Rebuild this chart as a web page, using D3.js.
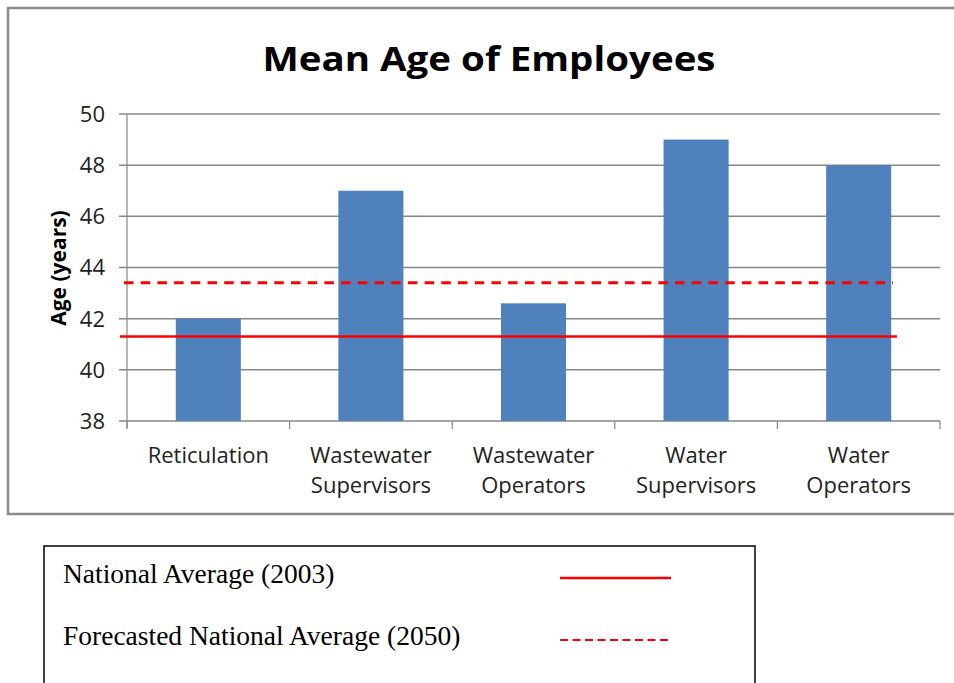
<!DOCTYPE html>
<html>
<head>
<meta charset="utf-8">
<script src="https://cdn.jsdelivr.net/npm/d3@7"></script>
<style>
  body { margin: 0; background: #ffffff; }
  svg { display: block; }
</style>
</head>
<body>
<svg id="vis"></svg>
<script>
// chart data
const categories = [["Reticulation"], ["Wastewater", "Supervisors"], ["Wastewater", "Operators"], ["Water", "Supervisors"], ["Water", "Operators"]];
const meanAges = [42, 47, 42.6, 49, 48];
const yTicks = [38, 40, 42, 44, 46, 48, 50];
const nationalAvg2003 = 41.3;
const forecastAvg2050 = 43.4;
const legendLabels = ["National Average (2003)", "Forecasted National Average (2050)"];

const W = 954, H = 683;
const uiFont = "'Open Sans', 'DejaVu Sans', sans-serif";

let svg = d3.select("#vis").attr("width", W).attr("height", H);

// outer chart frame
svg.append("rect")
    .attr("x", 8).attr("y", 8)
    .attr("width", 960).attr("height", 506)
    .attr("fill", "none")
    .attr("stroke", "#8a8a8a")
    .attr("stroke-width", 2.5);

svg.append("text")
    .attr("x", 489).attr("y", 71)
    .attr("text-anchor", "middle")
    .attr("font-family", uiFont)
    .attr("font-weight", "bold")
    .attr("font-size", 34)
    .attr("textLength", 453)
    .attr("lengthAdjust", "spacingAndGlyphs")
    .text("Mean Age of Employees");

// scales
let x = d3.scaleBand()
    .domain(d3.range(categories.length))
    .range([127, 940])
    .paddingInner(0.6)
    .paddingOuter(0.3);

let xEdge = d3.scaleLinear().domain([0, categories.length]).range([127, 940]);

let y = d3.scaleLinear().domain([38, 50]).range([421, 114]);

// gridlines
svg.append("g").selectAll("line")
    .data(yTicks)
    .enter()
    .append("line")
    .attr("x1", 119).attr("x2", 940)
    .attr("y1", function(d) { return y(d); })
    .attr("y2", function(d) { return y(d); })
    .attr("stroke", "#878787")
    .attr("stroke-width", 1.5);

// y axis line
svg.append("line")
    .attr("x1", 127).attr("x2", 127)
    .attr("y1", 114).attr("y2", 428)
    .attr("stroke", "#878787")
    .attr("stroke-width", 1.2);

// category tick marks
svg.append("g").selectAll("line")
    .data(d3.range(categories.length + 1))
    .enter()
    .append("line")
    .attr("x1", function(i) { return xEdge(i); })
    .attr("x2", function(i) { return xEdge(i); })
    .attr("y1", 421).attr("y2", 429)
    .attr("stroke", "#878787")
    .attr("stroke-width", 1.2);

// y tick labels
svg.append("g").selectAll("text")
    .data(yTicks)
    .enter()
    .append("text")
    .attr("x", 105)
    .attr("y", function(d) { return y(d); })
    .attr("dy", "0.36em")
    .attr("text-anchor", "end")
    .attr("font-family", uiFont)
    .attr("font-size", 22)
    .attr("fill", "#222")
    .text(function(d) { return d; });

svg.append("text")
    .attr("transform", "translate(66,268) rotate(-90)")
    .attr("text-anchor", "middle")
    .attr("font-family", uiFont)
    .attr("font-weight", "bold")
    .attr("font-size", 21)
    .text("Age (years)");

// bars
svg.append("g").selectAll("rect")
    .data(meanAges)
    .enter()
    .append("rect")
    .attr("x", function(d, i) { return x(i); })
    .attr("y", function(d) { return y(d); })
    .attr("width", x.bandwidth())
    .attr("height", function(d) { return y(38) - y(d); })
    .attr("fill", "#4f81bd");

// category labels
let catLabels = svg.append("g").selectAll("text")
    .data(categories)
    .enter()
    .append("text")
    .attr("x", function(d, i) { return x(i) + x.bandwidth() / 2; })
    .attr("y", 463)
    .attr("text-anchor", "middle")
    .attr("font-family", uiFont)
    .attr("font-size", 22)
    .attr("fill", "#222");

catLabels.selectAll("tspan")
    .data(function(d) { return d; })
    .enter()
    .append("tspan")
    .attr("x", function() { return d3.select(this.parentNode).attr("x"); })
    .attr("dy", function(d, j) { return j === 0 ? 0 : 30; })
    .text(function(d) { return d; });

// national average reference lines
svg.append("line")
    .attr("x1", 120).attr("x2", 897)
    .attr("y1", y(nationalAvg2003)).attr("y2", y(nationalAvg2003))
    .attr("stroke", "#ff0000")
    .attr("stroke-width", 2.5);

svg.append("line")
    .attr("x1", 124).attr("x2", 893)
    .attr("y1", y(forecastAvg2050)).attr("y2", y(forecastAvg2050))
    .attr("stroke", "#ff0000")
    .attr("stroke-width", 3)
    .attr("stroke-dasharray", "9.5,7.2");

// legend box
svg.append("rect")
    .attr("x", 44).attr("y", 546)
    .attr("width", 711).attr("height", 160)
    .attr("fill", "none")
    .attr("stroke", "#000")
    .attr("stroke-width", 1.5);

let legendTextY = [583, 645];
svg.append("g").selectAll("text")
    .data(legendLabels)
    .enter()
    .append("text")
    .attr("x", 63)
    .attr("y", function(d, i) { return legendTextY[i]; })
    .attr("font-family", "'Liberation Serif', 'Times New Roman', serif")
    .attr("font-size", 27.5)
    .text(function(d) { return d; });

svg.append("line")
    .attr("x1", 560).attr("x2", 671)
    .attr("y1", 578).attr("y2", 578)
    .attr("stroke", "#ff0000")
    .attr("stroke-width", 2.5);

svg.append("line")
    .attr("x1", 560).attr("x2", 671)
    .attr("y1", 640).attr("y2", 640)
    .attr("stroke", "#ff0000")
    .attr("stroke-width", 1.8)
    .attr("stroke-dasharray", "8,4.5");
</script>
</body>
</html>
